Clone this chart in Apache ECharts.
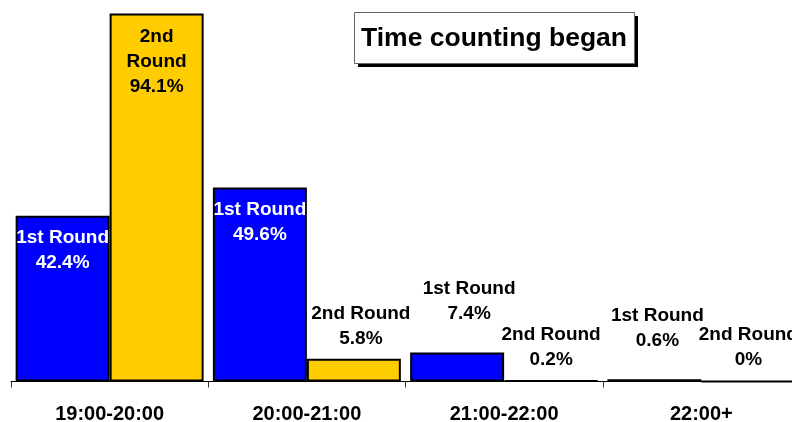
<!DOCTYPE html>
<html>
<head>
<meta charset="utf-8">
<script src="https://cdn.jsdelivr.net/npm/echarts@6/dist/echarts.min.js"></script>
<style>
  html, body { margin: 0; padding: 0; background: #fff; }
  #chart { width: 792px; height: 422px; }
</style>
</head>
<body>
<div id="chart"></div>
<script>
// time slots and share of polling stations where counting started (%)
const categories = ['19:00-20:00', '20:00-21:00', '21:00-22:00', '22:00+']
const firstRound = [42.4, 49.6, 7.4, 0.6]
const secondRound = [94.1, 5.8, 0.2, 0]
const seriesNames = ['1st Round', '2nd Round']
const chartTitle = 'Time counting began'

// small horizontal nudges of the outside labels, as placed in the original
const firstShift = [0, 0, 12, 3]
const secondShift = [0, 7, 0, 0]

const font = 'Liberation Sans, Arial, sans-serif'

function makeData(values, shifts, isFirst) {
  return values.map((v, i) => {
    const inside = v > 20
    return {
      value: v,
      label: inside ? {
        position: 'insideTop',
        distance: isFirst ? 10 : 11,
        color: isFirst ? '#fff' : '#000'
      } : {
        position: 'top',
        distance: isFirst ? 26 : 8,
        offset: [shifts[i], 0],
        color: '#000'
      }
    }
  })
}

function labelText(p) {
  const inside = p.value > 20
  let name = p.seriesName
  if (inside && p.seriesIndex === 1) name = name.replace(' ', '\n')
  return name + '\n' + p.value + '%'
}

const labelStyle = {
  show: true,
  formatter: labelText,
  fontFamily: font,
  fontSize: 19,
  fontWeight: 'bold',
  lineHeight: 25,
  align: 'center'
}

const chart = echarts.init(document.getElementById('chart'))
chart.setOption({
  animation: false,
  backgroundColor: '#fff',
  graphic: [
    // title box with a hard drop shadow
    { type: 'rect', left: 358, top: 16, shape: { width: 280, height: 51 }, style: { fill: '#000' }, z: 10 },
    { type: 'rect', left: 354, top: 12, shape: { width: 280, height: 51 }, style: { fill: '#fff', stroke: '#666', lineWidth: 1 }, z: 11 },
    {
      type: 'text', left: 361, top: 25, z: 12,
      style: { text: chartTitle, font: 'bold 26.5px ' + font, fill: '#000' }
    }
  ],
  grid: {
    left: 11,
    right: -8,
    top: -9.5,
    bottom: 40.5,
    outerBoundsMode: 'none',
    containLabel: false
  },
  xAxis: {
    type: 'category',
    data: categories,
    axisLine: { lineStyle: { color: '#000', width: 1 } },
    axisTick: { show: true, length: 6, lineStyle: { color: '#333' } },
    axisLabel: {
      fontFamily: font,
      fontSize: 20,
      fontWeight: 'bold',
      color: '#000',
      margin: 23
    }
  },
  yAxis: {
    type: 'value',
    min: 0,
    max: 100,
    show: false,
    splitLine: { show: false }
  },
  series: [
    {
      name: seriesNames[0],
      type: 'bar',
      barGap: 0,
      barCategoryGap: '4.7%',
      data: makeData(firstRound, firstShift, true),
      itemStyle: { color: '#0000ff', borderColor: '#000', borderWidth: 2 },
      label: labelStyle
    },
    {
      name: seriesNames[1],
      type: 'bar',
      barGap: 0,
      barCategoryGap: '4.7%',
      data: makeData(secondRound, secondShift, false),
      itemStyle: { color: '#ffcc00', borderColor: '#000', borderWidth: 2 },
      label: labelStyle
    }
  ]
})
</script>
</body>
</html>
